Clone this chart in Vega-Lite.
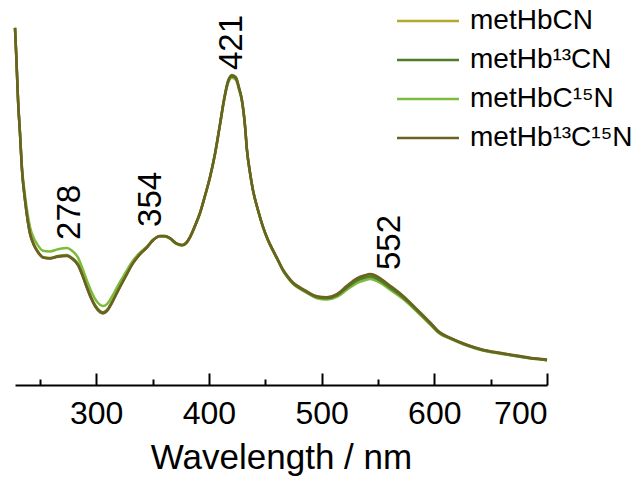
{
  "$schema": "https://vega.github.io/schema/vega-lite/v6.json",
  "width": 532,
  "height": 380,
  "autosize": "none",
  "padding": {"left": 15, "top": 5, "right": 91, "bottom": 97},
  "background": "white",
  "config": {
    "view": {"stroke": null},
    "font": "Liberation Sans",
    "axis": {"grid": false}
  },
  "datasets": {
    "spectra": [
      {"nm": 228.0, "metHbCN": 1.152, "metHb¹³CN": 1.152, "metHbC¹⁵N": 1.152, "metHb¹³C¹⁵N": 1.152},
      {"nm": 228.9, "metHbCN": 1.081, "metHb¹³CN": 1.081, "metHbC¹⁵N": 1.082, "metHb¹³C¹⁵N": 1.080},
      {"nm": 229.8, "metHbCN": 1.000, "metHb¹³CN": 1.000, "metHbC¹⁵N": 1.003, "metHb¹³C¹⁵N": 0.999},
      {"nm": 230.7, "metHbCN": 0.919, "metHb¹³CN": 0.919, "metHbC¹⁵N": 0.923, "metHb¹³C¹⁵N": 0.918},
      {"nm": 232.4, "metHbCN": 0.813, "metHb¹³CN": 0.813, "metHbC¹⁵N": 0.818, "metHb¹³C¹⁵N": 0.812},
      {"nm": 234.2, "metHbCN": 0.694, "metHb¹³CN": 0.694, "metHbC¹⁵N": 0.704, "metHb¹³C¹⁵N": 0.693},
      {"nm": 236.9, "metHbCN": 0.597, "metHb¹³CN": 0.596, "metHbC¹⁵N": 0.612, "metHb¹³C¹⁵N": 0.595},
      {"nm": 239.5, "metHbCN": 0.526, "metHb¹³CN": 0.525, "metHbC¹⁵N": 0.545, "metHb¹³C¹⁵N": 0.524},
      {"nm": 241.3, "metHbCN": 0.490, "metHb¹³CN": 0.489, "metHbC¹⁵N": 0.510, "metHb¹³C¹⁵N": 0.488},
      {"nm": 244.9, "metHbCN": 0.452, "metHb¹³CN": 0.451, "metHbC¹⁵N": 0.472, "metHb¹³C¹⁵N": 0.450},
      {"nm": 247.5, "metHbCN": 0.435, "metHb¹³CN": 0.434, "metHbC¹⁵N": 0.455, "metHb¹³C¹⁵N": 0.433},
      {"nm": 252.8, "metHbCN": 0.413, "metHb¹³CN": 0.412, "metHbC¹⁵N": 0.433, "metHb¹³C¹⁵N": 0.411},
      {"nm": 259.0, "metHbCN": 0.410, "metHb¹³CN": 0.409, "metHbC¹⁵N": 0.431, "metHb¹³C¹⁵N": 0.408},
      {"nm": 266.1, "metHbCN": 0.416, "metHb¹³CN": 0.415, "metHbC¹⁵N": 0.438, "metHb¹³C¹⁵N": 0.414},
      {"nm": 274.1, "metHbCN": 0.419, "metHb¹³CN": 0.418, "metHbC¹⁵N": 0.442, "metHb¹³C¹⁵N": 0.416},
      {"nm": 278.6, "metHbCN": 0.410, "metHb¹³CN": 0.409, "metHbC¹⁵N": 0.433, "metHb¹³C¹⁵N": 0.407},
      {"nm": 283.9, "metHbCN": 0.390, "metHb¹³CN": 0.389, "metHbC¹⁵N": 0.411, "metHb¹³C¹⁵N": 0.386},
      {"nm": 288.3, "metHbCN": 0.352, "metHb¹³CN": 0.351, "metHbC¹⁵N": 0.372, "metHb¹³C¹⁵N": 0.348},
      {"nm": 291.9, "metHbCN": 0.316, "metHb¹³CN": 0.315, "metHbC¹⁵N": 0.336, "metHb¹³C¹⁵N": 0.312},
      {"nm": 295.4, "metHbCN": 0.284, "metHb¹³CN": 0.283, "metHbC¹⁵N": 0.304, "metHb¹³C¹⁵N": 0.280},
      {"nm": 299.0, "metHbCN": 0.258, "metHb¹³CN": 0.257, "metHbC¹⁵N": 0.278, "metHb¹³C¹⁵N": 0.254},
      {"nm": 303.4, "metHbCN": 0.239, "metHb¹³CN": 0.238, "metHbC¹⁵N": 0.259, "metHb¹³C¹⁵N": 0.235},
      {"nm": 306.0, "metHbCN": 0.235, "metHb¹³CN": 0.234, "metHbC¹⁵N": 0.255, "metHb¹³C¹⁵N": 0.231},
      {"nm": 309.6, "metHbCN": 0.242, "metHb¹³CN": 0.241, "metHbC¹⁵N": 0.261, "metHb¹³C¹⁵N": 0.238},
      {"nm": 314.0, "metHbCN": 0.268, "metHb¹³CN": 0.267, "metHbC¹⁵N": 0.285, "metHb¹³C¹⁵N": 0.264},
      {"nm": 318.5, "metHbCN": 0.300, "metHb¹³CN": 0.299, "metHbC¹⁵N": 0.315, "metHb¹³C¹⁵N": 0.297},
      {"nm": 325.6, "metHbCN": 0.348, "metHb¹³CN": 0.347, "metHbC¹⁵N": 0.360, "metHb¹³C¹⁵N": 0.346},
      {"nm": 332.7, "metHbCN": 0.394, "metHb¹³CN": 0.393, "metHbC¹⁵N": 0.402, "metHb¹³C¹⁵N": 0.393},
      {"nm": 338.9, "metHbCN": 0.423, "metHb¹³CN": 0.422, "metHbC¹⁵N": 0.427, "metHb¹³C¹⁵N": 0.422},
      {"nm": 345.1, "metHbCN": 0.445, "metHb¹³CN": 0.444, "metHbC¹⁵N": 0.447, "metHb¹³C¹⁵N": 0.444},
      {"nm": 350.4, "metHbCN": 0.468, "metHb¹³CN": 0.467, "metHbC¹⁵N": 0.468, "metHb¹³C¹⁵N": 0.467},
      {"nm": 356.6, "metHbCN": 0.481, "metHb¹³CN": 0.480, "metHbC¹⁵N": 0.480, "metHb¹³C¹⁵N": 0.481},
      {"nm": 361.0, "metHbCN": 0.481, "metHb¹³CN": 0.480, "metHbC¹⁵N": 0.479, "metHb¹³C¹⁵N": 0.481},
      {"nm": 365.5, "metHbCN": 0.474, "metHb¹³CN": 0.473, "metHbC¹⁵N": 0.472, "metHb¹³C¹⁵N": 0.474},
      {"nm": 370.8, "metHbCN": 0.458, "metHb¹³CN": 0.457, "metHbC¹⁵N": 0.456, "metHb¹³C¹⁵N": 0.458},
      {"nm": 376.1, "metHbCN": 0.452, "metHb¹³CN": 0.451, "metHbC¹⁵N": 0.450, "metHb¹³C¹⁵N": 0.452},
      {"nm": 379.7, "metHbCN": 0.458, "metHb¹³CN": 0.457, "metHbC¹⁵N": 0.456, "metHb¹³C¹⁵N": 0.458},
      {"nm": 383.2, "metHbCN": 0.477, "metHb¹³CN": 0.476, "metHbC¹⁵N": 0.475, "metHb¹³C¹⁵N": 0.477},
      {"nm": 387.6, "metHbCN": 0.513, "metHb¹³CN": 0.512, "metHbC¹⁵N": 0.511, "metHb¹³C¹⁵N": 0.513},
      {"nm": 392.1, "metHbCN": 0.555, "metHb¹³CN": 0.554, "metHbC¹⁵N": 0.553, "metHb¹³C¹⁵N": 0.555},
      {"nm": 396.5, "metHbCN": 0.610, "metHb¹³CN": 0.609, "metHbC¹⁵N": 0.608, "metHb¹³C¹⁵N": 0.610},
      {"nm": 401.0, "metHbCN": 0.671, "metHb¹³CN": 0.670, "metHbC¹⁵N": 0.669, "metHb¹³C¹⁵N": 0.671},
      {"nm": 405.4, "metHbCN": 0.745, "metHb¹³CN": 0.745, "metHbC¹⁵N": 0.743, "metHb¹³C¹⁵N": 0.745},
      {"nm": 409.8, "metHbCN": 0.839, "metHb¹³CN": 0.840, "metHbC¹⁵N": 0.836, "metHb¹³C¹⁵N": 0.839},
      {"nm": 413.4, "metHbCN": 0.919, "metHb¹³CN": 0.921, "metHbC¹⁵N": 0.915, "metHb¹³C¹⁵N": 0.918},
      {"nm": 416.9, "metHbCN": 0.977, "metHb¹³CN": 0.980, "metHbC¹⁵N": 0.972, "metHb¹³C¹⁵N": 0.976},
      {"nm": 420.5, "metHbCN": 0.997, "metHb¹³CN": 1.000, "metHbC¹⁵N": 0.991, "metHb¹³C¹⁵N": 0.996},
      {"nm": 424.0, "metHbCN": 0.990, "metHb¹³CN": 0.993, "metHbC¹⁵N": 0.984, "metHb¹³C¹⁵N": 0.989},
      {"nm": 426.7, "metHbCN": 0.958, "metHb¹³CN": 0.961, "metHbC¹⁵N": 0.953, "metHb¹³C¹⁵N": 0.957},
      {"nm": 429.3, "metHbCN": 0.919, "metHb¹³CN": 0.921, "metHbC¹⁵N": 0.915, "metHb¹³C¹⁵N": 0.918},
      {"nm": 432.0, "metHbCN": 0.839, "metHb¹³CN": 0.840, "metHbC¹⁵N": 0.836, "metHb¹³C¹⁵N": 0.839},
      {"nm": 433.8, "metHbCN": 0.758, "metHb¹³CN": 0.759, "metHbC¹⁵N": 0.756, "metHb¹³C¹⁵N": 0.758},
      {"nm": 436.4, "metHbCN": 0.687, "metHb¹³CN": 0.688, "metHbC¹⁵N": 0.686, "metHb¹³C¹⁵N": 0.687},
      {"nm": 439.1, "metHbCN": 0.629, "metHb¹³CN": 0.629, "metHbC¹⁵N": 0.628, "metHb¹³C¹⁵N": 0.629},
      {"nm": 443.5, "metHbCN": 0.565, "metHb¹³CN": 0.565, "metHbC¹⁵N": 0.564, "metHb¹³C¹⁵N": 0.566},
      {"nm": 448.0, "metHbCN": 0.510, "metHb¹³CN": 0.510, "metHbC¹⁵N": 0.509, "metHb¹³C¹⁵N": 0.511},
      {"nm": 452.4, "metHbCN": 0.468, "metHb¹³CN": 0.467, "metHbC¹⁵N": 0.466, "metHb¹³C¹⁵N": 0.469},
      {"nm": 456.8, "metHbCN": 0.435, "metHb¹³CN": 0.434, "metHbC¹⁵N": 0.433, "metHb¹³C¹⁵N": 0.436},
      {"nm": 461.3, "metHbCN": 0.403, "metHb¹³CN": 0.402, "metHbC¹⁵N": 0.401, "metHb¹³C¹⁵N": 0.404},
      {"nm": 465.7, "metHbCN": 0.371, "metHb¹³CN": 0.370, "metHbC¹⁵N": 0.369, "metHb¹³C¹⁵N": 0.373},
      {"nm": 470.1, "metHbCN": 0.348, "metHb¹³CN": 0.347, "metHbC¹⁵N": 0.346, "metHb¹³C¹⁵N": 0.350},
      {"nm": 474.6, "metHbCN": 0.329, "metHb¹³CN": 0.328, "metHbC¹⁵N": 0.326, "metHb¹³C¹⁵N": 0.331},
      {"nm": 480.8, "metHbCN": 0.313, "metHb¹³CN": 0.312, "metHbC¹⁵N": 0.310, "metHb¹³C¹⁵N": 0.315},
      {"nm": 487.0, "metHbCN": 0.300, "metHb¹³CN": 0.299, "metHbC¹⁵N": 0.297, "metHb¹³C¹⁵N": 0.302},
      {"nm": 495.9, "metHbCN": 0.284, "metHb¹³CN": 0.283, "metHbC¹⁵N": 0.280, "metHb¹³C¹⁵N": 0.286},
      {"nm": 504.7, "metHbCN": 0.281, "metHb¹³CN": 0.280, "metHbC¹⁵N": 0.276, "metHb¹³C¹⁵N": 0.283},
      {"nm": 513.6, "metHbCN": 0.290, "metHb¹³CN": 0.289, "metHbC¹⁵N": 0.284, "metHb¹³C¹⁵N": 0.293},
      {"nm": 522.5, "metHbCN": 0.316, "metHb¹³CN": 0.314, "metHbC¹⁵N": 0.307, "metHb¹³C¹⁵N": 0.320},
      {"nm": 531.3, "metHbCN": 0.339, "metHb¹³CN": 0.337, "metHbC¹⁵N": 0.329, "metHb¹³C¹⁵N": 0.344},
      {"nm": 538.4, "metHbCN": 0.348, "metHb¹³CN": 0.346, "metHbC¹⁵N": 0.338, "metHb¹³C¹⁵N": 0.354},
      {"nm": 542.9, "metHbCN": 0.352, "metHb¹³CN": 0.350, "metHbC¹⁵N": 0.342, "metHb¹³C¹⁵N": 0.358},
      {"nm": 547.3, "metHbCN": 0.348, "metHb¹³CN": 0.346, "metHbC¹⁵N": 0.338, "metHb¹³C¹⁵N": 0.354},
      {"nm": 551.7, "metHbCN": 0.339, "metHb¹³CN": 0.337, "metHbC¹⁵N": 0.330, "metHb¹³C¹⁵N": 0.345},
      {"nm": 560.6, "metHbCN": 0.316, "metHb¹³CN": 0.314, "metHbC¹⁵N": 0.308, "metHb¹³C¹⁵N": 0.321},
      {"nm": 572.1, "metHbCN": 0.284, "metHb¹³CN": 0.283, "metHbC¹⁵N": 0.278, "metHb¹³C¹⁵N": 0.288},
      {"nm": 584.5, "metHbCN": 0.242, "metHb¹³CN": 0.241, "metHbC¹⁵N": 0.237, "metHb¹³C¹⁵N": 0.245},
      {"nm": 596.1, "metHbCN": 0.200, "metHb¹³CN": 0.199, "metHbC¹⁵N": 0.196, "metHb¹³C¹⁵N": 0.203},
      {"nm": 604.9, "metHbCN": 0.168, "metHb¹³CN": 0.167, "metHbC¹⁵N": 0.165, "metHb¹³C¹⁵N": 0.170},
      {"nm": 613.8, "metHbCN": 0.152, "metHb¹³CN": 0.151, "metHbC¹⁵N": 0.150, "metHb¹³C¹⁵N": 0.153},
      {"nm": 628.9, "metHbCN": 0.129, "metHb¹³CN": 0.128, "metHbC¹⁵N": 0.127, "metHb¹³C¹⁵N": 0.130},
      {"nm": 643.1, "metHbCN": 0.113, "metHb¹³CN": 0.112, "metHbC¹⁵N": 0.111, "metHb¹³C¹⁵N": 0.114},
      {"nm": 658.2, "metHbCN": 0.103, "metHb¹³CN": 0.102, "metHbC¹⁵N": 0.101, "metHb¹³C¹⁵N": 0.104},
      {"nm": 673.2, "metHbCN": 0.094, "metHb¹³CN": 0.093, "metHbC¹⁵N": 0.093, "metHb¹³C¹⁵N": 0.095},
      {"nm": 684.8, "metHbCN": 0.087, "metHb¹³CN": 0.086, "metHbC¹⁵N": 0.086, "metHb¹³C¹⁵N": 0.088},
      {"nm": 700.0, "metHbCN": 0.081, "metHb¹³CN": 0.080, "metHbC¹⁵N": 0.080, "metHb¹³C¹⁵N": 0.082}
    ],
    "peaks": [
      {"nm": 276.8, "A": 0.468, "label": "278"},
      {"nm": 348.6, "A": 0.510, "label": "354"},
      {"nm": 420.5, "A": 1.016, "label": "421"},
      {"nm": 560.6, "A": 0.371, "label": "552"}
    ]
  },
  "layer": [
    {
      "data": {"name": "spectra"},
      "transform": [
        {"fold": ["metHbC¹⁵N", "metHbCN", "metHb¹³CN", "metHb¹³C¹⁵N"], "as": ["sample", "A"]}
      ],
      "mark": {"type": "line", "strokeWidth": 2.5, "interpolate": "monotone"},
      "encoding": {
        "x": {
          "field": "nm", "type": "quantitative",
          "scale": {"domain": [228, 700], "nice": false, "zero": false},
          "axis": {
            "orient": "bottom",
            "title": "Wavelength / nm",
            "values": [250, 300, 350, 400, 450, 500, 550, 600, 650, 700],
            "labelExpr": "datum.value % 100 == 0 ? datum.label : ''",
            "ticks": true,
            "tickSize": {"condition": {"test": "datum.value % 100 != 0", "value": -6}, "value": -12},
            "tickWidth": 2, "tickColor": "black",
            "domainColor": "black", "domainWidth": 2,
            "labelFontSize": 32, "labelColor": "black", "labelPadding": 25,
            "labelFont": "Liberation Sans",
            "titleFontSize": 35, "titleFontWeight": "normal", "titleColor": "black",
            "titleFont": "Liberation Sans", "titlePadding": 11
          }
        },
        "y": {
          "field": "A", "type": "quantitative",
          "scale": {"domain": [0, 1.2258], "nice": false, "zero": false},
          "axis": null
        },
        "color": {
          "field": "sample", "type": "nominal",
          "scale": {
            "domain": ["metHbCN", "metHb¹³CN", "metHbC¹⁵N", "metHb¹³C¹⁵N"],
            "range": ["#b3a82c", "#4e7d26", "#7dbb3c", "#6b6120"]
          },
          "legend": {
            "title": null,
            "orient": "none",
            "legendX": 399,
            "legendY": 2,
            "symbolType": "M-4,0L4,0",
            "symbolSize": 240,
            "symbolStrokeWidth": 2.5,
            "labelFontSize": 28,
            "labelFont": "Liberation Sans",
            "labelColor": "black",
            "labelOffset": 28,
            "labelLimit": 400,
            "rowPadding": 11
          }
        }
      }
    },
    {
      "data": {"name": "peaks"},
      "mark": {"type": "text", "angle": 270, "align": "left", "baseline": "middle", "fontSize": 33, "font": "Liberation Sans", "color": "black"},
      "encoding": {
        "x": {"field": "nm", "type": "quantitative"},
        "y": {"field": "A", "type": "quantitative"},
        "text": {"field": "label"}
      }
    }
  ]
}
